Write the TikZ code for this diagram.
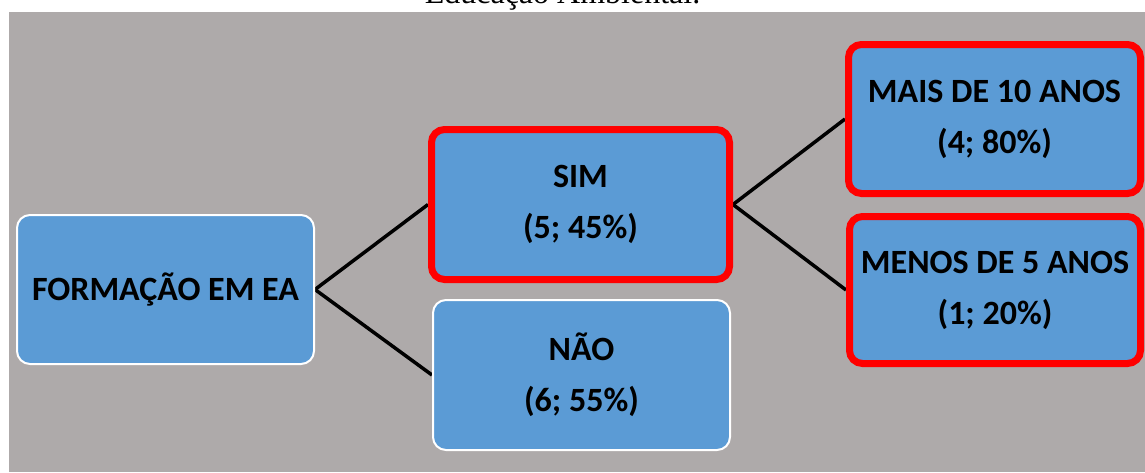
\documentclass[tikz,border=0pt]{standalone}
\usepackage{fontspec}
\setmainfont{Carlito}
\newfontfamily\titlefont{Liberation Serif}
\usetikzlibrary{backgrounds}
\definecolor{bggray}{HTML}{AEAAAA}
\definecolor{boxblue}{HTML}{5B9BD5}
\definecolor{hired}{HTML}{FF0000}
\tikzset{
  box/.style={rectangle, rounded corners=13pt, fill=boxblue, align=center,
    font=\bfseries\fontsize{34}{51}\selectfont, text=black, inner sep=0pt},
  plainbox/.style={box, draw=white, line width=2pt},
  redbox/.style={box, draw=hired, line width=7pt},
  link/.style={draw=black, line width=3.5pt}
}
\begin{document}
\begin{tikzpicture}[x=1pt,y=-1pt]
\useasboundingbox (0,0) rectangle (1145,472);
\node[anchor=base, font=\titlefont\fontsize{32}{38}\selectfont] (title) at (562.5,3.5) {Educação Ambiental.};
\node[plainbox, minimum width=297pt, minimum height=149pt] (ea) at (165.5,289.5) {FORMAÇÃO EM EA};
\node[redbox, minimum width=298pt, minimum height=150pt] (sim) at (580.5,204.5) {SIM\\(5; 45\%)};
\node[plainbox, minimum width=297pt, minimum height=150pt] (nao) at (581.5,375) {NÃO\\(6; 55\%)};
\node[redbox, minimum width=292pt, minimum height=149pt] (mais) at (994.5,119) {MAIS DE 10 ANOS\\(4; 80\%)};
\node[redbox, minimum width=291pt, minimum height=147pt] (menos) at (995,290) {MENOS DE 5 ANOS\\(1; 20\%)};
\begin{scope}[on background layer]
\fill[bggray] (9,12) rectangle (1145,472);
\draw[link] (ea.east) -- (sim.west);
\draw[link] (ea.east) -- (nao.west);
\draw[link] (sim.east) -- (mais.west);
\draw[link] (sim.east) -- (menos.west);
\end{scope}
\end{tikzpicture}
\end{document}
